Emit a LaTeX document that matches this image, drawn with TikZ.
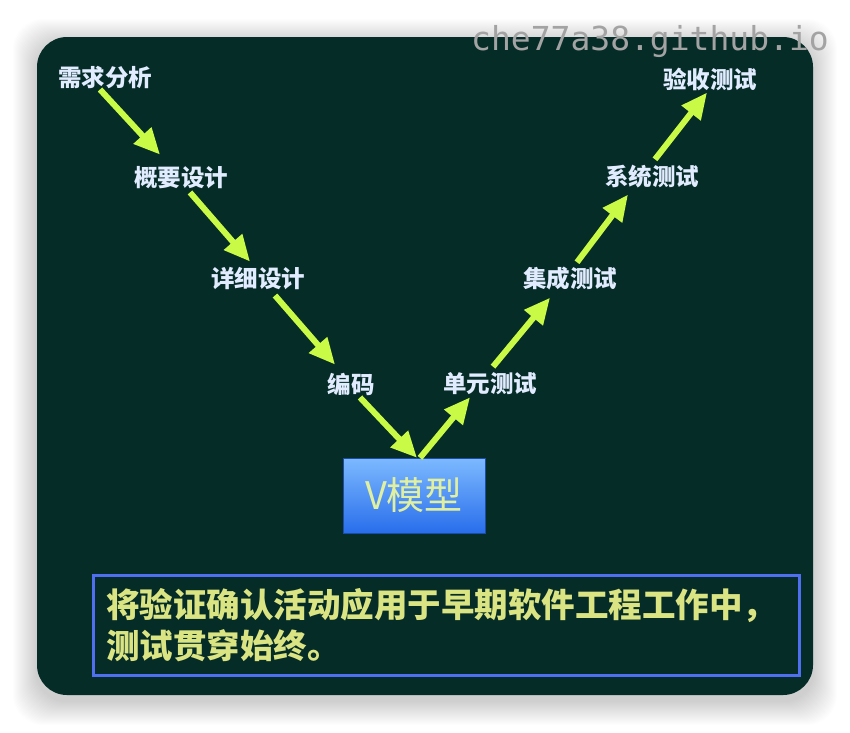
\documentclass[tikz,border=0pt]{standalone}
\usepackage{fontspec}
\usepackage{color}
\usepackage{tikz}
\usetikzlibrary{arrows.meta,shapes}
\newfontfamily\cjk{Noto Sans CJK SC}
\newfontfamily\wmark{DejaVu Sans Mono}
\definecolor{panelbg}{RGB}{6,44,40}
\definecolor{lime}{RGB}{200,250,70}
\definecolor{stepfg}{RGB}{225,236,255}
\definecolor{notefg}{RGB}{218,228,130}
\definecolor{noteline}{RGB}{80,110,240}
\definecolor{vtop}{RGB}{125,185,255}
\definecolor{vbot}{RGB}{40,110,235}
\definecolor{vfg}{RGB}{225,240,160}
\newcommand{\stepsize}{\fontsize{23.5pt}{25pt}\selectfont}
\newcommand{\notesize}{\fontsize{33.5pt}{41pt}\selectfont}

\begin{document}
\begin{tikzpicture}[x=1pt,y=-1pt]
            %\draw[help lines] (0,0) grid (850,732);
            \tikzset{stepnode/.style = {inner sep = 0pt, text = stepfg, font = \cjk\bfseries\stepsize}}
            \tikzset{varrow/.style = {draw = lime, line width = 6pt, -{Triangle[length=26pt,width=23pt]}}}
            \useasboundingbox (0,0) rectangle (850,732);
            \foreach \s in {1,...,24}
                \fill[black, opacity=0.007, rounded corners=30pt] (37-\s,37-\s+6) rectangle (813+\s,695+\s+6);
            \fill[panelbg, rounded corners=30pt] (37,37) rectangle (813,695);
            \node[text=black!36, font=\wmark\fontsize{33pt}{36pt}\selectfont, inner sep=0pt] (wm) at (650,42) {che77a38.github.io};
            \node[stepnode] (req) at (105,78) {需求分析};
            \node[stepnode] (hld) at (181,178) {概要设计};
            \node[stepnode] (lld) at (258,279) {详细设计};
            \node[stepnode] (code) at (351,384) {编码};
            \node[stepnode] (unit) at (490,384) {单元测试};
            \node[stepnode] (integ) at (570,279) {集成测试};
            \node[stepnode] (sys) at (652,177) {系统测试};
            \node[stepnode] (acc) at (710,79) {验收测试};
            \node[draw=vbot!70!black, top color=vtop, bottom color=vbot, minimum width=142pt, minimum height=75pt,
                  text=vfg, font=\cjk\fontsize{38pt}{40pt}\selectfont] (vm) at (414,495.5) {V模型};
            \node[draw=noteline, line width=3pt, minimum width=706pt, minimum height=100pt, text width=680pt,
                  align=left, text=notefg, font=\cjk\bfseries\notesize] (note) at (446,625)
                  {将验证确认活动应用于早期软件工程工作中，\\测试贯穿始终。};
            \draw[varrow] ([xshift=-5pt]req.south) -- ([xshift=-21pt,yshift=12pt]hld.north);
            \draw[varrow] ([xshift=9pt,yshift=-3pt]hld.south) -- ([xshift=-8pt,yshift=6pt]lld.north);
            \draw[varrow] ([xshift=17pt,yshift=-5pt]lld.south) -- ([xshift=-16pt,yshift=8pt]code.north);
            \draw[varrow] ([xshift=9pt,yshift=-2pt]code.south) -- ([xshift=3pt]vm.north);
            \draw[varrow] ([xshift=6pt]vm.north) -- ([xshift=-20pt,yshift=-2pt]unit.south);
            \draw[varrow] ([xshift=3pt,yshift=6pt]unit.north) -- ([xshift=-20pt,yshift=-7pt]integ.south);
            \draw[varrow] ([xshift=7pt,yshift=5pt]integ.north) -- ([xshift=-24pt,yshift=-6pt]sys.south);
            \draw[varrow] ([xshift=3pt,yshift=6pt]sys.north) -- ([xshift=-3pt,yshift=-2pt]acc.south);
        \end{tikzpicture}
\end{document}
